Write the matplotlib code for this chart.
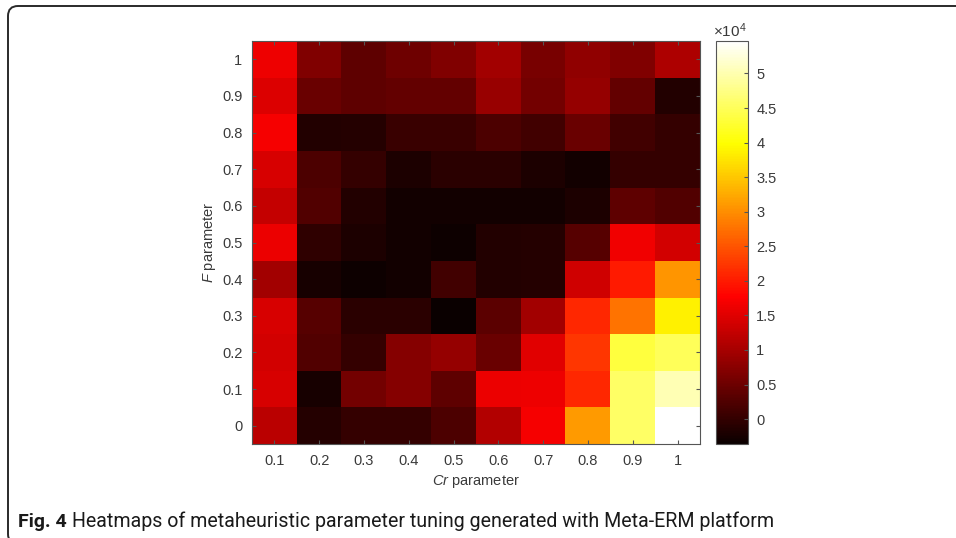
import matplotlib
matplotlib.use("Agg")
import matplotlib.pyplot as plt
import numpy as np
from matplotlib.patches import FancyBboxPatch
from matplotlib.transforms import IdentityTransform

plt.rcParams["mathtext.fontset"] = "custom"
plt.rcParams["mathtext.it"] = "Liberation Sans:italic"
plt.rcParams["mathtext.rm"] = "Liberation Sans"

# Cr parameter (columns) and F parameter (rows, bottom to top)
cr_labels = ["0.1", "0.2", "0.3", "0.4", "0.5", "0.6", "0.7", "0.8", "0.9", "1"]
f_labels = ["0", "0.1", "0.2", "0.3", "0.4", "0.5", "0.6", "0.7", "0.8", "0.9", "1"]

# values in units of 1e4, one list per F row (F = 0 ... 1)
row_f00 = [1.18, -0.11, 0.02, 0.02, 0.22, 1.10, 1.69, 3.12, 4.57, 5.47]
row_f01 = [1.43, -0.24, 0.56, 0.73, 0.39, 1.60, 1.64, 2.12, 4.57, 5.03]
row_f02 = [1.39, 0.27, 0.02, 0.73, 0.85, 0.48, 1.52, 2.25, 4.34, 4.51]
row_f03 = [1.43, 0.31, -0.07, -0.07, -0.34, 0.35, 0.98, 2.12, 2.77, 3.86]
row_f04 = [0.98, -0.24, -0.32, -0.29, 0.14, -0.15, -0.11, 1.35, 1.99, 3.07]
row_f05 = [1.60, -0.03, -0.19, -0.29, -0.32, -0.15, -0.11, 0.31, 1.66, 1.39]
row_f06 = [1.27, 0.27, -0.15, -0.29, -0.29, -0.29, -0.29, -0.19, 0.39, 0.27]
row_f07 = [1.43, 0.22, 0.02, -0.19, -0.07, -0.07, -0.19, -0.29, 0.02, 0.02]
row_f08 = [1.69, -0.15, -0.11, 0.06, 0.06, 0.22, 0.14, 0.48, 0.14, 0.02]
row_f09 = [1.48, 0.48, 0.39, 0.43, 0.43, 0.89, 0.56, 0.85, 0.43, -0.15]
row_f10 = [1.64, 0.68, 0.39, 0.52, 0.68, 0.98, 0.60, 0.81, 0.68, 1.06]

cbar_ticks = [0, 0.5, 1, 1.5, 2, 2.5, 3, 3.5, 4, 4.5, 5]
cbar_ticklabels = ["0", "0.5", "1", "1.5", "2", "2.5", "3", "3.5", "4", "4.5", "5"]

data = np.array([row_f00, row_f01, row_f02, row_f03, row_f04, row_f05,
                 row_f06, row_f07, row_f08, row_f09, row_f10])

W, H = 956, 538
fig = plt.figure(figsize=(W / 100, H / 100), dpi=100)
fig.patch.set_facecolor("white")

fam = ["Liberation Sans", "DejaVu Sans"]
tick_font = dict(family=fam, size=10.5, color="#3a3a3a")

ax = fig.add_axes([252 / W, 1 - 444 / H, 448 / W, 403 / H])
im = ax.imshow(data, cmap="hot", origin="lower", aspect="auto",
               vmin=-0.36, vmax=5.47, interpolation="nearest")
ax.set_xticks(np.arange(len(cr_labels)))
ax.set_xticklabels(cr_labels, **tick_font)
ax.set_yticks(np.arange(len(f_labels)))
ax.set_yticklabels(f_labels, **tick_font)
ax.tick_params(direction="in", top=True, right=True, length=3, width=0.8,
               color="#555555", pad=7)
for s in ax.spines.values():
    s.set_color("#555555")
    s.set_linewidth(0.8)

ax.set_xlabel("$\\mathit{Cr}$ parameter", fontsize=10.5, color="#3a3a3a",
              family=fam, labelpad=4)
ax.set_ylabel("$\\mathit{F}$ parameter", fontsize=10.5, color="#3a3a3a",
              family=fam, labelpad=3)

cax = fig.add_axes([716 / W, 1 - 444 / H, 32 / W, 403 / H])
cb = fig.colorbar(im, cax=cax)
cb.set_ticks(cbar_ticks)
cb.set_ticklabels(cbar_ticklabels)
for t in cax.get_yticklabels():
    t.set_fontfamily(fam)
    t.set_fontsize(10.5)
    t.set_color("#3a3a3a")
cax.tick_params(direction="in", length=3, width=0.8, color="#555555", pad=6)
cb.outline.set_edgecolor("#555555")
cb.outline.set_linewidth(0.8)
fig.text(713 / W, 1 - 37 / H, "$\\times 10^{4}$", fontsize=11, color="#3a3a3a",
         ha="left", va="baseline", family=fam)

# caption
cap_y = 1 - 527 / H
cap_fam = ["Roboto", "DejaVu Sans"]
t1 = fig.text(18 / W, cap_y, "Fig. 4", fontsize=14, fontweight="bold",
              family=cap_fam, color="#1a1a1a", va="baseline")
fig.canvas.draw()
bb = t1.get_window_extent()
fig.text((bb.x1 + 5) / W, cap_y,
         "Heatmaps of metaheuristic parameter tuning generated with Meta-ERM platform",
         fontsize=14.1, family=cap_fam, color="#1a1a1a", va="baseline")

# rounded border around the figure panel (pixel coordinates)
border = FancyBboxPatch((8, -6), 1000, 538 - 6 + 6,
                        boxstyle="round,pad=0,rounding_size=10",
                        transform=IdentityTransform(), fill=False,
                        edgecolor="#2a2a2a", linewidth=1.4, clip_on=False)
fig.patches.append(border)

fig.savefig("out.png", dpi=100, facecolor="white")
